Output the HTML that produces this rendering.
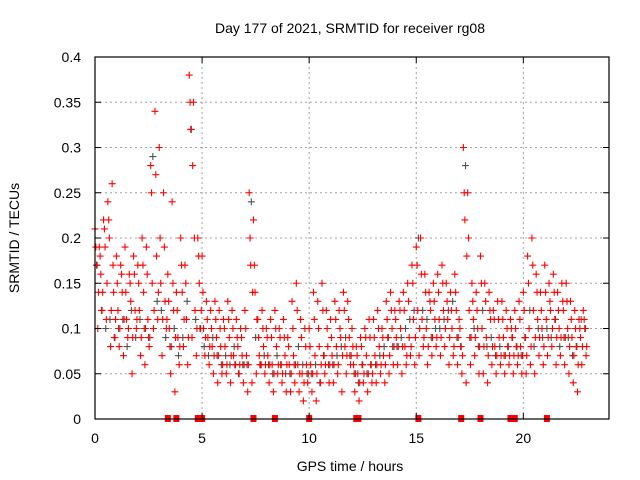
<!DOCTYPE html>
<html><head><meta charset="utf-8"><style>body{margin:0;background:#fff}svg{display:block;font-family:"Liberation Sans",sans-serif}</style></head>
<body>
<svg id="chart" width="640" height="480" viewBox="0 0 640 480">
<g id="grid"></g>
<g id="pts"></g>
<rect x="95" y="57" width="514" height="362" fill="none" stroke="#000" stroke-width="1.2"/>
<g id="ticks"></g>
<text x="350" y="33" text-anchor="middle" font-size="14">Day 177 of 2021, SRMTID for receiver rg08</text>
<text x="350" y="471" text-anchor="middle" font-size="14">GPS time / hours</text>
<text transform="translate(19,238) rotate(-90)" text-anchor="middle" font-size="14">SRMTID / TECUs</text>
</svg>
<script>
// values in hundredths of TECU, sampled every 0.2 hours from 0 to 22.8
const seriesA=[21,19,22,24,26, 18,17,19,16,18, 17,20,19,28,34, 30,25,16,24,14, 20,17,38,35,20, 18,13,12,13,12, 11,13,12,11,10, 12,25,22,11,12, 10,11,12,10,11, 9,13,15,11,10, 10,14,13,15,12, 11,13,12,14,13, 10,8,9,10,11, 11,12,10,13,14, 12,13,14,15,17, 19,20,16,14,15, 16,17,15,14,16, 11,30,25,15,14, 18,15,14,12,13, 13,12,11,12,13, 14,18,20,16,14, 17,15,16,14,15, 15,13,12,11,12];
const seriesD=[19,18,21,22,17, 15,16,14,15,16, 15,17,16,25,27, 20,19,13,15,12, 17,15,35,20,18, 14,11,10,11,10, 10,11,10,9,9, 10,20,17,9,10, 9,9,10,9,9, 8,10,12,9,8, 8,11,10,12,10, 9,11,10,12,11, 8,7,8,9,9, 9,10,9,11,12, 11,12,12,13,15, 17,16,14,13,13, 14,15,13,12,14, 10,25,20,13,12, 15,13,12,11,11, 11,10,10,10,11, 12,15,17,14,12, 14,13,14,12,13, 13,11,10,10,11];
const seriesB=[17,16,19,20,14, 12,14,11,13,12, 12,14,11,15,18, 15,13,10,12,9, 14,11,32,12,15, 10,9,8,9,8, 8,9,7,8,7, 7,17,14,7,8, 7,6,8,6,7, 6,7,6,5,6, 6,7,8,7,8, 7,8,9,8,9, 6,5,6,7,6, 7,8,7,9,10, 9,10,8,9,11, 12,11,10,12,11, 11,12,11,10,12, 8,22,12,11,10, 10,9,11,8,9, 9,8,9,8,8, 9,10,12,11,10, 11,12,11,10,12, 10,9,8,9,10];
const seriesE=[14,14,15,12,11, 10,11,10,9,11, 9,10,9,12,14, 11,11,8,9,8, 11,9,28,10,12, 9,8,7,7,6, 6,7,6,6,6, 6,14,11,6,6, 6,5,6,5,6, 5,6,5,4,5, 5,5,6,6,6, 6,6,7,7,7, 5,4,5,5,5, 6,6,6,7,8, 8,8,7,8,9, 10,9,8,9,9, 9,10,9,8,9, 7,18,9,9,8, 8,7,8,7,7, 7,7,7,7,7, 7,8,9,9,8, 9,10,9,9,9, 8,7,6,8,8];
const seriesC=[10,12,11,8,9, 8,7,9,5,10, 7,6,8,10,11, 7,10,5,3,6, 8,6,9,7,10, 7,6,5,4,5, 5,4,6,5,4, 3,4,5,6,5, 4,3,5,4,3, 3,4,3,2,4, 3,2,4,5,4, 4,5,3,5,6, 3,2,4,3,4, 4,5,4,5,6, 6,5,6,7,6, 7,8,6,7,8, 7,8,6,7,6, 5,4,6,7,5, 5,4,6,5,6, 5,6,5,6,5, 5,6,5,7,6, 7,8,6,7,6, 5,4,3,6,7];
const seriesGray=[17,12,10,11,9, 10,11,8,12,9, 11,10,9,29,13, 12,9,8,10,7, 9,13,32,11,10, 8,7,9,7,6, 7,6,8,5,6, 6,24,9,6,7, 6,5,7,6,5, 5,6,8,6,5, 5,6,4,7,6, 6,7,8,9,7, 5,4,6,5,6, 6,7,8,9,8, 8,9,10,11,12, 20,12,11,9,10, 10,11,12,13,9, 8,28,9,10,8, 12,8,9,7,8, 7,8,9,8,7, 9,12,8,10,9, 10,9,11,8,9, 9,7,8,11,10];
const gapHours=[3.4,3.8,4.8,4.9,5.0,7.4,8.4,10.0,12.2,12.3,15.1,17.1,18.0,19.4,19.5,19.6,21.1];
const xTicks=[0,5,10,15,20];
const yTicks=[0,0.05,0.1,0.15,0.2,0.25,0.3,0.35,0.4];
const yTickLabels=["0","0.05","0.1","0.15","0.2","0.25","0.3","0.35","0.4"];
const step=0.2;

const NS="http://www.w3.org/2000/svg";
const X=h=>95+h*(514/24);
const Y=v=>419-v*(362/0.4);
function mk(tag,attrs,parent){const e=document.createElementNS(NS,tag);for(const k in attrs)e.setAttribute(k,attrs[k]);parent.appendChild(e);return e;}
const grid=document.getElementById('grid'),ticks=document.getElementById('ticks'),pts=document.getElementById('pts');
xTicks.forEach(t=>{
  if(t>0){const l=mk('line',{x1:X(t),x2:X(t),y1:57,y2:419,stroke:'#a0a0a0','stroke-dasharray':'2,3'},grid);
  
  }
  mk('line',{x1:X(t),x2:X(t),y1:419,y2:413,stroke:'#000'},ticks);
  mk('line',{x1:X(t),x2:X(t),y1:57,y2:63,stroke:'#000'},ticks);
  const tx=mk('text',{x:X(t),y:443,'text-anchor':'middle','font-size':14},ticks);tx.textContent=t;
  
  
});
yTicks.forEach((v,i)=>{
  if(v>0){const l=mk('line',{x1:95,x2:609,y1:Y(v),y2:Y(v),stroke:'#a0a0a0','stroke-dasharray':'2,3'},grid);
  
  }
  mk('line',{x1:95,x2:101,y1:Y(v),y2:Y(v),stroke:'#000'},ticks);
  mk('line',{x1:603,x2:609,y1:Y(v),y2:Y(v),stroke:'#000'},ticks);
  const tx=mk('text',{x:81,y:Y(v)+5,'text-anchor':'end','font-size':14},ticks);tx.textContent=yTickLabels[i];
  
  
});
function plus(h,v,color){
  const x=X(h),y=Y(v);
  const p=mk('path',{d:`M${x-3.5},${y}h7M${x},${y-3.5}v7`,stroke:color,'stroke-width':1.1,fill:'none'},pts);
  
  
}
seriesGray.forEach((v,i)=>plus(i*step+0.1,v/100,'#505050'));
seriesA.forEach((v,i)=>plus(i*step,v/100,'#ff0000'));
seriesD.forEach((v,i)=>plus(i*step+0.04,v/100,'#ff0000'));
seriesB.forEach((v,i)=>plus(i*step+0.07,v/100,'#ff0000'));
seriesE.forEach((v,i)=>plus(i*step+0.16,v/100,'#ff0000'));
seriesC.forEach((v,i)=>plus(i*step+0.13,v/100,'#ff0000'));
gapHours.forEach(h=>{
  const r=mk('rect',{x:X(h)-3,y:415,width:6,height:7,fill:'#ff0000'},pts);
  
  
});
</script>
</body></html>
